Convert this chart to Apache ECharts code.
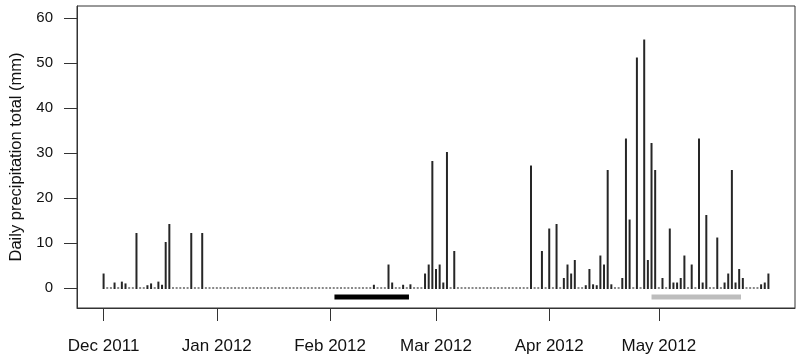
<!DOCTYPE html>
<html>
<head>
<meta charset="utf-8">
<script src="https://cdn.jsdelivr.net/npm/echarts@6/dist/echarts.min.js"></script>
<style>
html,body{margin:0;padding:0;background:#fff;}
#chart{width:800px;height:364px;}
</style>
</head>
<body>
<div id="chart"></div>
<script>
// Daily precipitation (mm), day 0 = 1 Dec 2011 ... day 182 = 31 May 2012
const precip = [
  3,0,0,1,0,1.2,0.8,0,0,12,
  0,0,0.4,0.8,0,1.2,0.5,10,14,0,
  0,0,0,0,12,0,0,12,0,0,
  0,0,0,0,0,0,0,0,0,0,
  0,0,0,0,0,0,0,0,0,0,
  0,0,0,0,0,0,0,0,0,0,
  0,0,0,0,0,0,0,0,0,0,
  0,0,0,0,0.5,0,0,0,5,1,
  0,0,0.5,0,0.6,0,0,0,3,5,
  28,4,5,1,30,0,8,0,0,0,
  0,0,0,0,0,0,0,0,0,0,
  0,0,0,0,0,0,0,27,0,0,
  8,0,13,0,14,0,2,5,3,6,
  0,0,0.4,4,0.6,0.4,7,5,26,0.6,
  0,0,2,33,15,0,51,0,55,6,
  32,26,0,2,0,13,1,1,2,7,
  0,5,0,33,1,16,0,0,11,0,
  1,3,26,1,4,2,0,0,0,0,
  0.6,1,3
];
// month tick positions (days since 1 Dec 2011) and labels
const tickDays = [0, 31, 62, 91, 122, 152];
const tickLabels = ['Dec 2011', 'Jan 2012', 'Feb 2012', 'Mar 2012', 'Apr 2012', 'May 2012'];
const yTicks = [0, 10, 20, 30, 40, 50, 60];
// highlighted periods (day offsets) drawn below the baseline
const blackPeriod = [63.2, 83.6];
const greyPeriod = [150, 174.5];
const periodLevel = -2;

const FONT = "'Liberation Sans', Arial, sans-serif";
const chart = echarts.init(document.getElementById('chart'), null, {renderer: 'canvas'});
chart.setOption({
  animation: false,
  backgroundColor: '#fff',
  grid: {left: 77, right: 5, top: 6, bottom: 56, show: true, borderColor: '#333', borderWidth: 1, backgroundColor: 'transparent'},
  xAxis: {
    type: 'value', min: -7.28, max: 189.28,
    splitLine: {show: false},
    axisLine: {show: true, onZero: false, lineStyle: {color: '#333', width: 1}},
    axisTick: {show: true, inside: false, length: 13, customValues: tickDays, lineStyle: {color: '#333', width: 1}},
    axisLabel: {customValues: tickDays, margin: 30, color: '#111', fontSize: 17, fontFamily: FONT,
      formatter: v => tickLabels[tickDays.indexOf(v)] || ''}
  },
  yAxis: {
    type: 'value', min: -4.44, max: 62.67,
    name: 'Daily precipitation total (mm)', nameLocation: 'middle', nameGap: 51,
    nameTextStyle: {color: '#111', fontSize: 16.5, fontFamily: FONT},
    splitLine: {show: false},
    axisLine: {show: true, onZero: false, lineStyle: {color: '#333', width: 1}},
    axisTick: {show: true, inside: false, length: 13, customValues: yTicks, lineStyle: {color: '#333', width: 1}},
    axisLabel: {customValues: yTicks, margin: 24, color: '#111', fontSize: 15, fontFamily: FONT}
  },
  series: [
    {
      type: 'custom', silent: true,
      data: precip.map((v, i) => [i, v]),
      encode: {x: 0, y: 1},
      renderItem: function (params, api) {
        const d = api.value(0), v = api.value(1);
        const base = api.coord([d, 0]);
        if (v === 0) {
          return {type: 'rect', shape: {x: base[0] - 1, y: base[1] - 1, width: 2, height: 2}, style: {fill: '#888'}};
        }
        const top = api.coord([d, v]);
        return {type: 'rect', shape: {x: top[0] - 1, y: top[1] - 1, width: 2, height: base[1] - top[1] + 2}, style: {fill: '#262626'}};
      }
    },
    {
      type: 'line', silent: true, symbol: 'none',
      data: [[blackPeriod[0], periodLevel], [blackPeriod[1], periodLevel]],
      lineStyle: {color: '#000', width: 5, cap: 'butt'}
    },
    {
      type: 'line', silent: true, symbol: 'none',
      data: [[greyPeriod[0], periodLevel], [greyPeriod[1], periodLevel]],
      lineStyle: {color: '#bdbdbd', width: 5, cap: 'butt'}
    }
  ]
});
</script>
</body>
</html>
